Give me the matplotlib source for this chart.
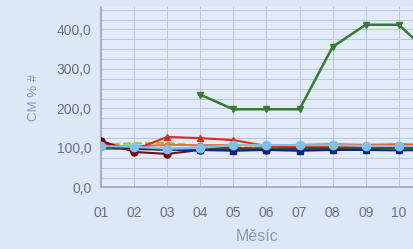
import matplotlib
matplotlib.use("Agg")
import matplotlib.pyplot as plt
from matplotlib.ticker import MultipleLocator, FuncFormatter

months = ["01", "02", "03", "04", "05", "06", "07", "08", "09", "10", "11"]
x = list(range(1, len(months) + 1))

green = [None, None, None, 235, 198, 198, 198, 356, 412, 412, 335]
maroon = [118, 90, 85, 95, 98, 95, 97, 98, 100, 100, 100]
red = [112, 95, 128, 125, 120, 105, 103, 104, 104, 106, 105]
olive = [108, 112, 113, 105, 102, 100, 102, 101, 102, 103, 102]
orange = [106, 104, 108, 107, 108, 106, 108, 110, 108, 110, 108]
darkgray = [100, 98, 97, 98, 99, 98, 99, 100, 100, 101, 100]
navy = [105, 100, 95, 95, 93, 95, 93, 95, 95, 94, 95]
skyblue = [105, 103, 98, 100, 108, 108, 107, 107, 105, 105, 105]

plt.rcParams['font.family'] = ['Liberation Sans', 'DejaVu Sans']

bg = "#dce8f6"
fig = plt.figure(figsize=(4.14, 2.49), dpi=100, facecolor=bg)
ax = fig.add_axes([0.244, 0.247, 0.756, 0.725])
ax.set_facecolor("#e2ecf8")

def seg(vals):
    xs = [xi for xi, v in zip(x, vals) if v is not None]
    ys = [v for v in vals if v is not None]
    return xs, ys

ax.plot(*seg(olive), color="#b8b030", lw=1.5, ls="--", zorder=3)
ax.plot(*seg(orange), color="#e07830", lw=1.5, marker="s", ms=3, zorder=3)
ax.plot(*seg(red), color="#e02820", lw=1.5, marker="^", ms=4, zorder=4)
ax.plot(*seg(maroon), color="#800010", lw=1.5, marker="o", ms=5, zorder=4)
ax.plot(*seg(darkgray), color="#404848", lw=2.0, zorder=5)
ax.plot(*seg(navy), color="#102870", lw=1.5, marker="s", ms=4, zorder=5)
ax.plot(*seg(skyblue), color="#80c0f0", lw=1.5, marker="o", ms=6, zorder=6)
ax.plot(*seg(green), color="#3a7a30", lw=1.8, marker="v", ms=5, zorder=6)

ax.set_xlim(1, 10.46)
ax.set_ylim(0, 457)
ax.set_xticks(x[:10])
ax.set_xticklabels(months[:10])
ax.yaxis.set_major_locator(MultipleLocator(100))
ax.yaxis.set_minor_locator(MultipleLocator(25))
ax.yaxis.set_major_formatter(FuncFormatter(lambda v, p: f"{v:.1f}".replace(".", ",")))

ax.grid(True, which="both", axis="y", color="#bcc6d4", lw=0.7)
ax.grid(True, which="major", axis="x", color="#bcc6d4", lw=0.7)
ax.set_axisbelow(True)
for s in ["top", "right"]:
    ax.spines[s].set_visible(False)
for s in ["left", "bottom"]:
    ax.spines[s].set_color("#a0a8b8")
    ax.spines[s].set_linewidth(1.2)

ax.tick_params(axis="both", which="both", length=0, labelsize=10, labelcolor="#6a7078")
ax.tick_params(axis="x", pad=13)
ax.tick_params(axis="y", pad=7)
ax.set_xlabel("Měsíc", fontsize=11.5, color="#8a9ab4", labelpad=7)
ax.set_ylabel("CM % #", fontsize=9.5, color="#8a9ab4", labelpad=12)

fig.savefig("out.png", dpi=100, facecolor=bg)
